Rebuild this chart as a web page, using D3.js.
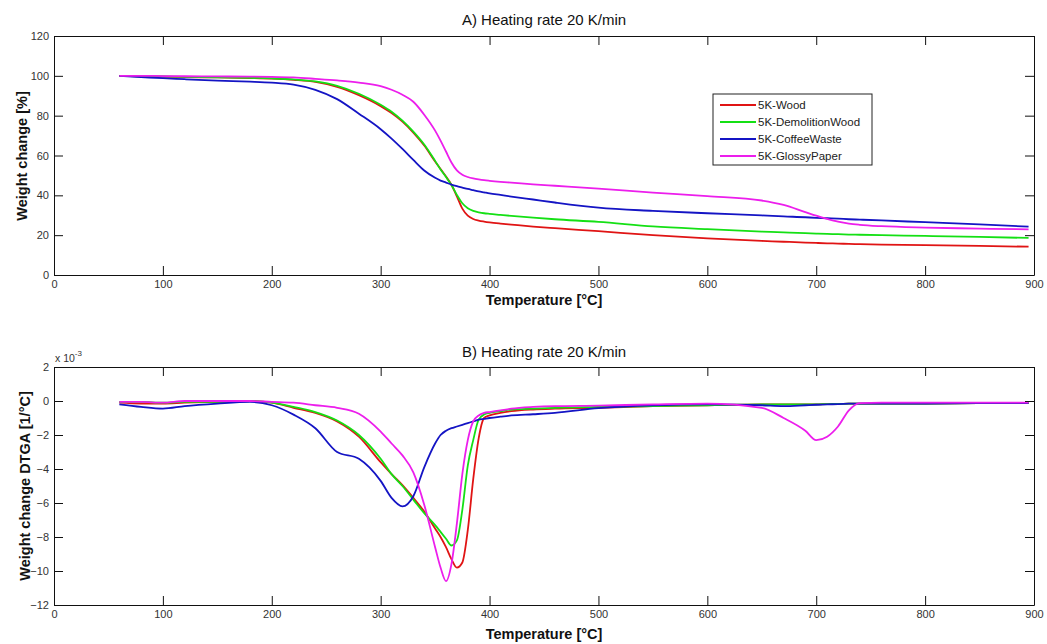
<!DOCTYPE html>
<html><head><meta charset="utf-8">
<script src="https://cdn.jsdelivr.net/npm/d3@7"></script>
<style>
body{margin:0;background:#fff}
svg{display:block}
text{font-family:"Liberation Sans",Arial,sans-serif}
</style>
</head><body>
<svg id="c" width="1047" height="644"></svg>
<script>
// ---------- data ----------
const temps = [60,80,100,120,150,180,200,220,240,260,
  280,300,310,320,330,340,350,355,360,365,
  370,375,380,385,390,395,400,410,420,440,
  460,500,550,600,650,670,690,700,710,720,
  730,740,760,800,850,895];

const seriesNames = ["5K-Wood","5K-DemolitionWood","5K-CoffeeWaste","5K-GlossyPaper"];

// Weight change [%]
const woodTG = [100,99.8,99.6,99.4,99.2,98.9,98.6,98.0,97.0,94.5,
  90.3,84.8,81.3,77.0,71.5,65.0,57.0,53.2,49.4,45.3,
  39.5,33.3,29.8,28.1,27.3,26.8,26.4,25.8,25.3,24.3,
  23.5,22.0,20.0,18.4,17.1,16.7,16.3,16.1,15.9,15.8,
  15.6,15.5,15.3,15.0,14.6,14.2];
const demolitionTG = [100,99.8,99.7,99.5,99.3,99.0,98.7,98.2,97.2,95.0,
  91.0,85.5,82.0,77.5,72.0,65.5,57.3,53.0,49.2,45.2,
  40.2,36.0,33.5,32.2,31.5,31.0,30.7,30.2,29.7,28.8,
  28.0,26.7,24.4,23.0,21.8,21.4,21.0,20.8,20.6,20.5,
  20.3,20.2,20.0,19.6,19.1,18.6];
const coffeeTG = [100,99.4,98.8,98.3,97.6,97.1,96.6,95.6,93.0,88.3,
  81.0,73.2,68.5,63.3,57.8,52.5,48.8,47.4,46.4,45.4,
  44.6,43.9,43.2,42.6,42.0,41.5,41.0,40.2,39.4,37.9,
  36.4,33.8,32.2,31.0,29.9,29.4,29.0,28.7,28.5,28.3,
  28.0,27.8,27.4,26.5,25.4,24.3];
const glossyTG = [100,100,99.9,99.8,99.7,99.6,99.5,99.2,98.5,97.7,
  96.6,94.8,93.0,90.5,87.0,80.5,72.5,67.5,62.0,56.5,
  52.5,50.3,49.2,48.5,48.0,47.6,47.3,46.8,46.4,45.5,
  44.8,43.4,41.4,39.6,37.4,35.2,31.6,29.8,28.2,26.8,
  25.8,25.2,24.5,23.8,23.3,22.9];

// Weight change DTGA [1/°C] (x 10^-3)
const woodDTGA = [-0.1,-0.15,-0.15,-0.1,-0.05,0,-0.1,-0.4,-0.7,-1.2,
  -2.1,-3.6,-4.3,-4.95,-5.7,-6.5,-7.5,-8.0,-8.6,-9.3,
  -9.8,-9.5,-7.6,-4.6,-2.2,-1.0,-0.85,-0.7,-0.6,-0.5,
  -0.45,-0.4,-0.3,-0.25,-0.2,-0.2,-0.2,-0.2,-0.18,-0.17,
  -0.16,-0.15,-0.15,-0.15,-0.12,-0.12];
const demolitionDTGA = [-0.05,-0.05,-0.1,-0.05,-0.05,0,-0.1,-0.35,-0.65,-1.15,
  -2.0,-3.4,-4.3,-5.0,-5.8,-6.6,-7.3,-7.7,-8.1,-8.5,
  -8.2,-6.4,-3.8,-2.3,-1.1,-0.8,-0.7,-0.6,-0.5,-0.45,
  -0.4,-0.35,-0.3,-0.25,-0.2,-0.2,-0.2,-0.2,-0.18,-0.17,
  -0.16,-0.15,-0.15,-0.15,-0.12,-0.12];
const coffeeDTGA = [-0.2,-0.35,-0.45,-0.3,-0.15,-0.05,-0.25,-0.8,-1.6,-3.0,
  -3.4,-4.7,-5.7,-6.2,-5.6,-3.9,-2.5,-2.0,-1.75,-1.6,
  -1.5,-1.4,-1.3,-1.2,-1.1,-1.05,-1.0,-0.92,-0.85,-0.78,
  -0.7,-0.42,-0.25,-0.2,-0.25,-0.3,-0.25,-0.22,-0.2,-0.18,
  -0.16,-0.15,-0.15,-0.15,-0.12,-0.12];
const glossyDTGA = [-0.05,-0.05,-0.1,0,0,0,-0.05,-0.1,-0.25,-0.4,
  -0.75,-1.8,-2.5,-3.2,-4.2,-6.1,-8.6,-9.8,-10.6,-9.6,
  -7.2,-4.3,-2.3,-1.2,-0.85,-0.7,-0.65,-0.55,-0.45,-0.35,
  -0.3,-0.27,-0.2,-0.15,-0.4,-1.0,-1.75,-2.3,-2.1,-1.5,
  -0.55,-0.12,-0.1,-0.1,-0.1,-0.1];

const xTicks = [0,100,200,300,400,500,600,700,800,900];
const tgTicks = [0,20,40,60,80,100,120];
const dtgaTicks = [-12,-10,-8,-6,-4,-2,0,2];

const colors = ["#e01414","#14e014","#1414c4","#ec1eec"];

// ---------- drawing ----------
const svg = d3.select("#c");
const x = d3.scaleLinear().domain([0,900]).range([54,1034]);

function panel(opts){
  const y = d3.scaleLinear().domain(opts.yDomain).range(opts.yRange);
  const g = svg.append("g");
  const bottom = opts.yRange[0], top = opts.yRange[1];

  const line = d3.line()
    .x((d,i)=>x(temps[i]))
    .y(d=>y(d))
    .curve(d3.curveMonotoneX);

  opts.series.forEach((s,i)=>{
    g.append("path").attr("d", line(s))
      .attr("fill","none").attr("stroke",colors[i])
      .attr("stroke-width",1.8).attr("stroke-linejoin","round");
  });

  const styleAxis = sel => {
    sel.selectAll("path,line").attr("stroke","#111").attr("stroke-width",1);
    sel.selectAll("text").attr("fill","#333").style("font-size","11px")
      .style("font-family",'"Liberation Sans",Arial,sans-serif');
  };

  g.append("g").attr("transform",`translate(0,${bottom})`)
    .call(d3.axisBottom(x).tickValues(xTicks).tickSizeInner(-9).tickSizeOuter(0).tickPadding(5))
    .call(styleAxis);
  g.append("g").attr("transform",`translate(0,${top})`)
    .call(d3.axisTop(x).tickValues(xTicks).tickSizeInner(-9).tickSizeOuter(0).tickFormat(""))
    .call(styleAxis);
  g.append("g").attr("transform",`translate(54,0)`)
    .call(d3.axisLeft(y).tickValues(opts.yTicks).tickSizeInner(-9).tickSizeOuter(0).tickPadding(5))
    .call(styleAxis);
  g.append("g").attr("transform",`translate(1034,0)`)
    .call(d3.axisRight(y).tickValues(opts.yTicks).tickSizeInner(-9).tickSizeOuter(0).tickFormat(""))
    .call(styleAxis);

  svg.append("text").attr("x",544).attr("y",opts.titleY)
    .attr("text-anchor","middle").style("font-size","15px").attr("fill","#111")
    .text(opts.title);
  svg.append("text").attr("x",544).attr("y",opts.xLabelY)
    .attr("text-anchor","middle").style("font-size","14.5px").style("font-weight","bold").attr("fill","#111")
    .text("Temperature [°C]");
  svg.append("text")
    .attr("transform",`translate(${opts.yLabelX},${opts.yLabelCY}) rotate(-90)`)
    .attr("text-anchor","middle").style("font-size","14.5px").style("font-weight","bold").attr("fill","#111")
    .text(opts.yLabel);
  return y;
}

panel({
  yDomain:[0,120], yRange:[275,36], yTicks:tgTicks,
  series:[woodTG,demolitionTG,coffeeTG,glossyTG],
  title:"A) Heating rate 20 K/min", titleY:25, xLabelY:305,
  yLabel:"Weight change [%]", yLabelX:27, yLabelCY:156
});

panel({
  yDomain:[-12,2], yRange:[605,367], yTicks:dtgaTicks,
  series:[woodDTGA,demolitionDTGA,coffeeDTGA,glossyDTGA],
  title:"B) Heating rate 20 K/min", titleY:357, xLabelY:639,
  yLabel:"Weight change DTGA [1/°C]", yLabelX:30, yLabelCY:486
});

const ex = svg.append("text").attr("x",55).attr("y",362).attr("fill","#333").style("font-size","10.5px");
ex.append("tspan").text("x 10");
ex.append("tspan").attr("dy",-6).style("font-size","8px").text("-3");

const lg = svg.append("g").attr("transform","translate(713,94)");
lg.append("rect").attr("width",159).attr("height",71)
  .attr("fill","#fff").attr("stroke","#222").attr("stroke-width",1);
seriesNames.forEach((n,i)=>{
  const yy = 11 + i*17;
  lg.append("line").attr("x1",7).attr("x2",43).attr("y1",yy).attr("y2",yy)
    .attr("stroke",colors[i]).attr("stroke-width",1.8);
  lg.append("text").attr("x",45).attr("y",yy+4).attr("fill","#222")
    .style("font-size","11.5px").text(n);
});
</script>
</body></html>
